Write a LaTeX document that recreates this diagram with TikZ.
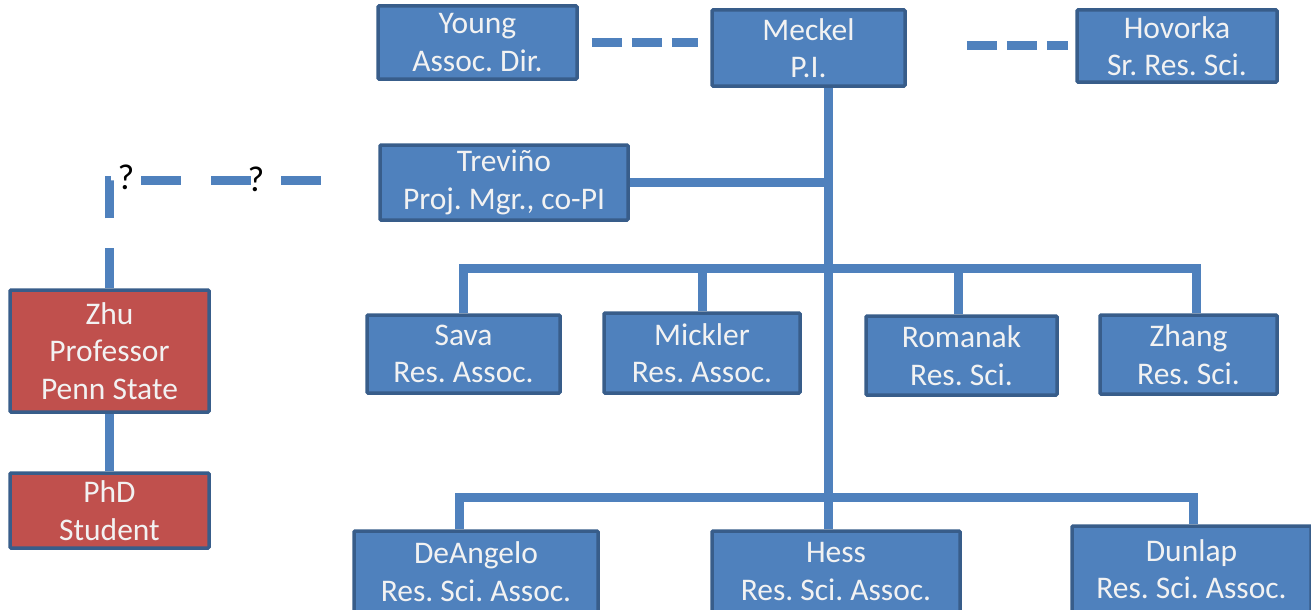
\documentclass[tikz,border=0pt]{standalone}
\usepackage{fontspec}
\setmainfont{Carlito}
\frenchspacing
\definecolor{boxblue}{HTML}{4F81BD}
\definecolor{rimblue}{HTML}{385D8A}
\definecolor{boxred}{HTML}{C0504D}
\begin{document}
\begin{tikzpicture}
		[x=1pt,y=-1pt,
		staff/.style= {draw=rimblue,line width=3.5pt,fill=boxblue,rounded corners=1pt,
			text=white!95!black,align=center,inner sep=0pt,
			font=\fontsize{31.5}{37.5}\selectfont},
		guest/.style= {staff,fill=boxred},
		link/.style= {draw=boxblue,line width=9pt},
		dotlink/.style= {link,dash pattern=on 30pt off 10pt},
		qlink/.style= {link,dash pattern=on 40pt off 30pt},
		ask/.style= {font=\fontsize{36}{40}\selectfont,inner sep=0pt}] 

		\useasboundingbox (0,0) rectangle (1311,610);
		\clip (0,0) rectangle (1311,610);

		% top row
		\node[staff,minimum width=199pt,minimum height=73pt] (young) at (477.5,42.5) {Young\\Assoc. Dir.};
		\node[staff,minimum width=193pt,minimum height=76pt] (meckel) at (808.5,48) {Meckel\\P.I.};
		\node[staff,minimum width=200pt,minimum height=72pt] (hovorka) at (1177,46) {Hovorka\\Sr. Res. Sci.};

		\node[staff,minimum width=248pt,minimum height=75pt] (trevino) at (504,182.5) {Treviño\\Proj. Mgr., co-PI};

		% middle row
		\node[staff,minimum width=193pt,minimum height=78pt] (sava) at (463.5,354) {Sava\\Res. Assoc.};
		\node[staff,minimum width=196pt,minimum height=80pt] (mickler) at (702,353) {Mickler\\Res. Assoc.};
		\node[staff,minimum width=191pt,minimum height=79pt] (romanak) at (961.5,355.5) {Romanak\\Res. Sci.};
		\node[staff,minimum width=177pt,minimum height=79pt] (zhang) at (1188.5,354.5) {Zhang\\Res. Sci.};

		% bottom row
		\node[staff,minimum width=244pt,minimum height=81pt] (deangelo) at (476,571.5) {DeAngelo\\Res. Sci. Assoc.};
		\node[staff,minimum width=248pt,minimum height=81pt] (hess) at (836,571.5) {Hess\\Res. Sci. Assoc.};
		\node[staff,minimum width=239pt,minimum height=86pt] (dunlap) at (1191.5,569) {Dunlap\\Res. Sci. Assoc.};

		% Penn State side
		\node[guest,minimum width=199pt,minimum height=122pt] (zhu) at (109.5,351) {Zhu\\Professor\\Penn State};
		\node[guest,minimum width=199pt,minimum height=75pt] (phd) at (109.5,510.5) {PhD\\Student}
			edge [link]	(zhu)
		;

		\coordinate (trunk) at (828,181);
		\coordinate (bar1) at (828,268);
		\coordinate (bar2) at (828,497);
		\coordinate (qend) at (322,180);

		% solid lines
		\draw[link] (meckel.south -| trunk) -- (hess.north -| trunk);
		\draw[link] (trevino.east) -- (trevino.east -| trunk);
		\draw[link] (sava.north) |- (bar1) -| ([xshift=8pt]zhang.north);
		\draw[link] (mickler.north) -- (mickler.north |- bar1);
		\draw[link] ([xshift=-3pt]romanak.north) -- ([xshift=-3pt]romanak.north |- bar1);
		\draw[link] ([xshift=-17pt]deangelo.north) |- (bar2) -| ([xshift=2pt]dunlap.north);

		% dashed lines
		\draw[dotlink,shorten <=13pt,shorten >=12pt] (young.east) -- (young.east -| meckel.west);
		\draw[dotlink,shorten <=60pt,shorten >=7pt] (meckel.east |- hovorka.west) -- (hovorka.west);
		\draw[qlink] (zhu.north) |- (qend);

		\node[ask] (q1) at (126,177) {?};
		\node[ask] (q2) at (256,179) {?};
		
	\end{tikzpicture}
\end{document}
